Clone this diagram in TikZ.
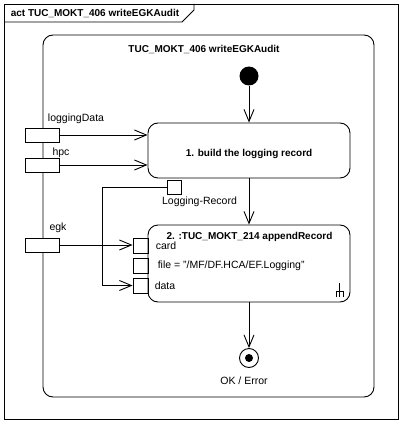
\documentclass[tikz,border=0pt]{standalone}
\usepackage{fontspec}
\setmainfont{Liberation Sans}
\usetikzlibrary{arrows.meta}

\begin{document}
\begin{tikzpicture}
[x=1pt,y=-1pt,line width=0.9pt,
  font=\fontsize{10.5}{12}\selectfont,
  titleDecorate/.style={font=\fontsize{10}{12}\selectfont\bfseries},
  actionDecorate/.style={shape=rectangle,draw,rounded corners=10pt,minimum width=202pt,inner sep=0pt},
  pinDecorate/.style={shape=rectangle,draw,inner sep=0pt,minimum width=34pt,minimum height=14pt},
  portDecorate/.style={shape=rectangle,draw,inner sep=0pt,minimum size=15pt},
  lineDecorate/.style={-{Straight Barb[length=12pt,width=10pt]}}]
\useasboundingbox (0,0) rectangle (402,425);
%% frame and activity
\draw (4,4) rectangle (398,419);
\draw (4,22) -- (182,22) -- (194,10) -- (194,4);
\node[titleDecorate,anchor=west] (frameTitle) at (7,13) {act TUC\_MOKT\_406 writeEGKAudit};
\draw[rounded corners=10pt] (43,35) rectangle (374,397);
\node[titleDecorate] (activityTitle) at (204,49) {TUC\_MOKT\_406 writeEGKAudit};
%% initial and final nodes
\node (init) at (249,76) [shape=circle,fill,inner sep=0pt,minimum size=19pt] {};
\node (final) at (249,358) [shape=circle,draw,inner sep=0pt,minimum size=19pt] {};
\fill (final.center) circle (4pt);
\node (finalLabel) at (244,381) {OK / Error};
%% actions
\node (build) at (249,150.5) [actionDecorate,minimum height=55pt,titleDecorate] {\raisebox{-6pt}[0pt][0pt]{1. build the logging record}};
\node (append) at (249,263.5) [actionDecorate,minimum height=77pt] {};
\node[titleDecorate] (appendTitle) at (249.5,237) {2. :TUC\_MOKT\_214 appendRecord};
\draw (339,283) -- (339,297) (336,297) -- (336,291) -- (343,291) -- (343,297);
%% parameter pins on the activity border
\foreach \nodename/\y/\lx/\ly/\text in {pinLog/135/76/119/loggingData, pinHpc/165/61/153/hpc, pinEgk/245/58/228/egk} {
  \node (\nodename) at (42,\y) [pinDecorate,fill=white] {};
  \node (\nodename Label) at (\lx,\ly) {\text};
}
%% input pins of the call action
\foreach \nodename/\y/\lx/\text in {portCard/245.5/152/card, portFile/265.5/154/{file = "/MF/DF.HCA/EF.Logging"}, portData/285.5/151/data} {
  \node (\nodename) at (140.5,\y) [portDecorate] {};
  \node (\nodename Label) at (\lx,\y) [anchor=west] {\text};
}
%% output pin
\node (pinRec) at (174,187) [portDecorate,minimum size=14pt] {};
\node (pinRecLabel) at (199.5,202) {Logging-Record};
\coordinate (recBend) at (102,187);
%% edges
\path
\foreach \startnode/\endnode in {init/build, build/append, append/final} {
  (\startnode) edge[lineDecorate] (\endnode)
}
(pinLog.east) edge[lineDecorate] (pinLog -| build.west)
(pinHpc.east) edge[lineDecorate] (pinHpc -| build.west)
(pinEgk.east) edge[lineDecorate] (pinEgk -| portCard.west);
\draw[lineDecorate] (pinRec.west) -- (recBend) |- (portData.west);
\end{tikzpicture}
\end{document}
